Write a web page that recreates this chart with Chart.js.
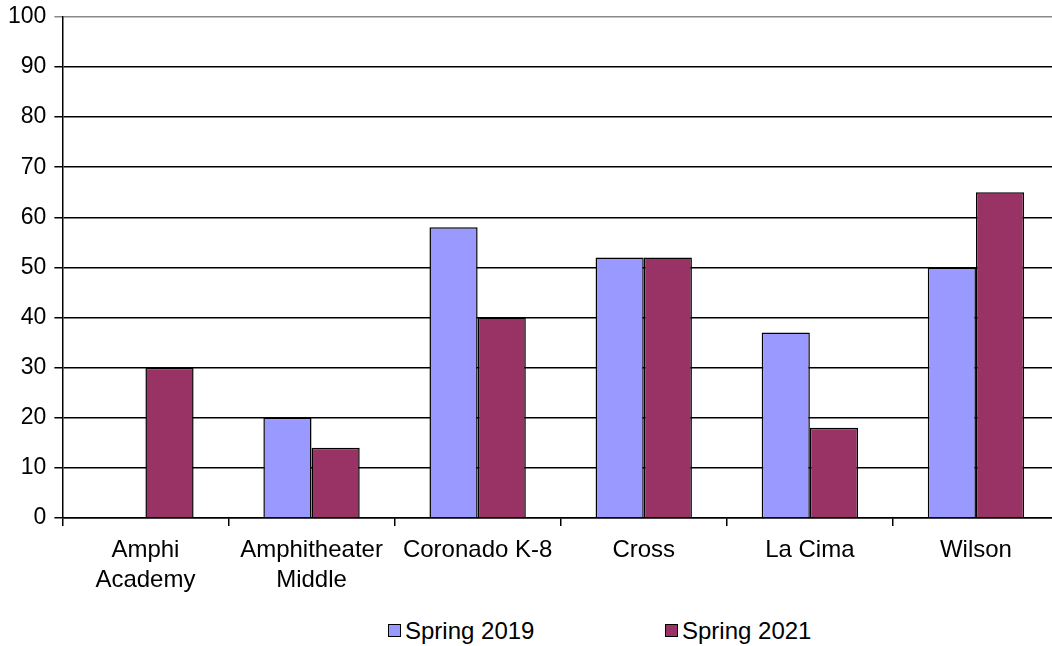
<!DOCTYPE html>
<html>
<head>
<script src="https://cdn.jsdelivr.net/npm/chart.js@4/dist/chart.umd.min.js"></script>
<style>
  body { margin: 0; background: #fff; }
  #wrap { position: relative; width: 1052px; height: 646px; overflow: hidden; }
  #wrap canvas { position: absolute; left: 0; top: -5px; }
  .legend { position: absolute; top: 617px; font-family: "Liberation Sans", Arial, sans-serif; font-size: 24px; color: #000; white-space: nowrap; }
  .legend span.box { display: inline-block; width: 11px; height: 11px; border: 1.5px solid #000; margin-right: 4px; vertical-align: 2px; }
</style>
</head>
<body>
<div id="wrap">
  <canvas id="myChart" width="1060" height="609" style="width:1060px;height:609px"></canvas>
  <div class="legend" id="leg0" style="left:388px"></div>
  <div class="legend" id="leg1" style="left:665px"></div>
</div>
<script>
    // values
    var categories = [["Amphi", "Academy"], ["Amphitheater", "Middle"], "Coronado K-8", "Cross", "La Cima", "Wilson"];
    var seriesNames = ["Spring 2019", "Spring 2021"];
    var spring2019 = [null, 20, 58, 52, 37, 50];
    var spring2021 = [30, 14, 40, 52, 18, 65];
    var seriesColors = ["#9999FF", "#993366"];
    var yMin = 0, yMax = 100, yStep = 10;

    var family = "'Liberation Sans', Arial, sans-serif";

    // html legend
    [0, 1].forEach(function (i) {
        document.getElementById("leg" + i).innerHTML =
            '<span class="box" style="background:' + seriesColors[i] + '"></span>' + seriesNames[i];
    });

    var ctx = document.getElementById("myChart").getContext("2d");
    new Chart(ctx, {
        type: "bar",
        data: {
            labels: categories,
            datasets: [
                { label: seriesNames[0], data: spring2019, backgroundColor: seriesColors[0], borderColor: "#000", borderWidth: 1.5 },
                { label: seriesNames[1], data: spring2021, backgroundColor: seriesColors[1], borderColor: "#000", borderWidth: 1.5 }
            ]
        },
        options: {
            responsive: false,
            animation: false,
            layout: { padding: { left: 0, right: 1, top: 4, bottom: 0 } },
            datasets: { bar: { categoryPercentage: 0.58, barPercentage: 1 } },
            plugins: { legend: { display: false }, tooltip: { enabled: false } },
            scales: {
                x: {
                    grid: { offset: true, drawOnChartArea: false, drawTicks: true, tickLength: 8, color: "#000", lineWidth: 1.5 },
                    border: { color: "#000", width: 1.5 },
                    ticks: { color: "#000", font: { family: family, size: 24, lineHeight: 1.25 }, padding: 9, maxRotation: 0, autoSkip: false }
                },
                y: {
                    min: yMin,
                    max: yMax,
                    ticks: { stepSize: yStep, color: "#000", font: { family: family, size: 23 }, padding: 8 },
                    grid: {
                        color: function (c) { return c.tick && c.tick.value === yMax ? "#888" : "#000"; },
                        lineWidth: 1.5,
                        tickLength: 8
                    },
                    border: { color: "#000", width: 1.5 }
                }
            }
        }
    });
</script>
</body>
</html>
